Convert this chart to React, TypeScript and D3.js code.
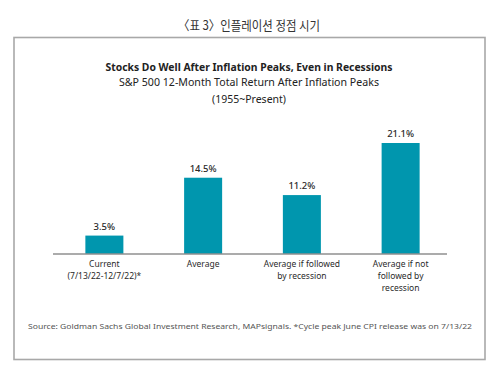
import { useMemo } from "react";
import * as d3 from "d3";

const WIDTH = 494;
const HEIGHT = 366;

// chart data
const categories = [
  "Current",
  "Average",
  "Average if followed",
  "Average if not",
];
const categoryLabels = [
  ["Current", "(7/13/22-12/7/22)*"],
  ["Average"],
  ["Average if followed", "by recession"],
  ["Average if not", "followed by", "recession"],
];
const values = [3.5, 14.5, 11.2, 21.1];
const valueLabels = ["3.5%", "14.5%", "11.2%", "21.1%"];

const BAR_COLOR = "#0096ae";
const FONT = "'Noto Sans', 'DejaVu Sans', sans-serif";

export const App = () => {
  const xScale = useMemo(
    () =>
      d3
        .scaleBand()
        .domain(categories)
        .range([55, 450])
        .paddingInner(0.615)
        .paddingOuter(0.3075),
    []
  );

  const yScale = useMemo(
    () => d3.scaleLinear().domain([0, 21.1]).range([254, 143]),
    []
  );

  const bars = values.map((v, i) => {
    const x = xScale(categories[i]);
    if (x === undefined) return null;
    const cx = x + xScale.bandwidth() / 2;
    return (
      <g key={i}>
        <rect
          x={x}
          y={yScale(v)}
          width={xScale.bandwidth()}
          height={yScale(0) - yScale(v)}
          fill={BAR_COLOR}
        />
        <text
          x={cx}
          y={yScale(v) - 6}
          textAnchor="middle"
          fontSize={9.5}
          fontWeight={500}
          fill="#2a2a2a"
        >
          {valueLabels[i]}
        </text>
        {categoryLabels[i].map((line, j) => (
          <text
            key={j}
            x={cx}
            y={yScale(0) + 13 + j * 12}
            textAnchor="middle"
            fontSize={8.5}
            fill="#2a2a2a"
          >
            {line}
          </text>
        ))}
      </g>
    );
  });

  return (
    <div style={{ position: "absolute", left: 0, top: 0 }}>
      <svg width={WIDTH} height={HEIGHT} style={{ fontFamily: FONT, display: "block" }}>
        <rect x={0} y={0} width={WIDTH} height={HEIGHT} fill="#ffffff" />
        <text
          x={249}
          y={30}
          textAnchor="middle"
          fontSize={13}
          fill="#333"
          fontFamily="'Noto Sans CJK KR', sans-serif"
          textLength={142}
          lengthAdjust="spacingAndGlyphs"
        >
          〈표 3〉인플레이션 정점 시기
        </text>

        {/* frame */}
        <rect
          x={14}
          y={37.5}
          width={471}
          height={322}
          fill="none"
          stroke="#a8a8a8"
          strokeWidth={1.6}
        />

        <text
          x={249}
          y={71}
          textAnchor="middle"
          fontSize={11}
          fontWeight="bold"
          fill="#222"
          textLength={287}
          lengthAdjust="spacingAndGlyphs"
        >
          Stocks Do Well After Inflation Peaks, Even in Recessions
        </text>
        <text
          x={249}
          y={86}
          textAnchor="middle"
          fontSize={10.5}
          fill="#222"
          textLength={260}
          lengthAdjust="spacingAndGlyphs"
        >
          S&amp;P 500 12-Month Total Return After Inflation Peaks
        </text>
        <text x={249} y={103} textAnchor="middle" fontSize={10.5} fill="#222">
          (1955~Present)
        </text>

        {bars}

        <line
          x1={53}
          x2={447}
          y1={yScale(0)}
          y2={yScale(0)}
          stroke="#8f8f8f"
          strokeWidth={1.5}
        />

        <text
          x={250}
          y={329}
          textAnchor="middle"
          fontSize={7.8}
          fill="#555"
          textLength={444}
          lengthAdjust="spacingAndGlyphs"
        >
          Source: Goldman Sachs Global Investment Research, MAPsignals. *Cycle peak June CPI release was on 7/13/22
        </text>
      </svg>
    </div>
  );
};

export default App;
